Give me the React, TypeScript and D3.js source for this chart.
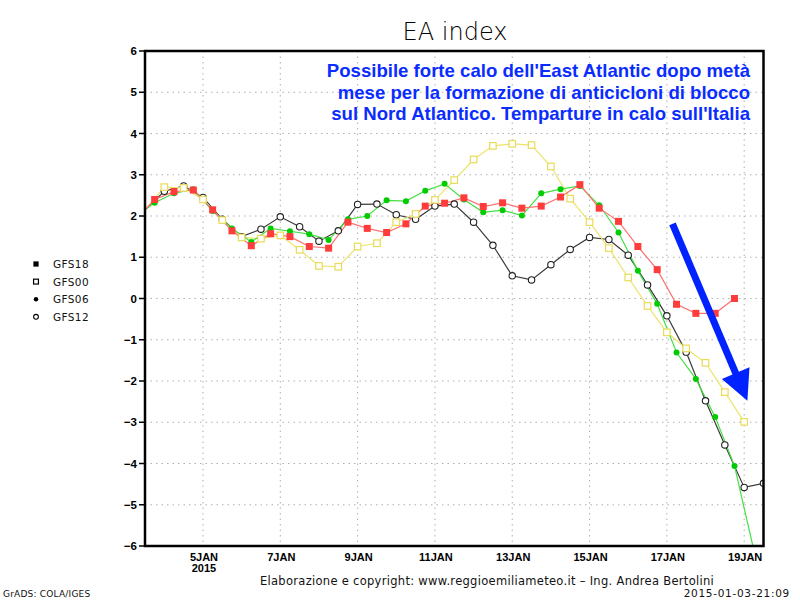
import React from 'react';
import * as d3 from 'd3';

const W = 800;
const H = 600;
const PLOT = { left: 145, right: 763.5, top: 51, bottom: 546 };

const xStart = new Date(Date.UTC(2015, 0, 3, 12));
const xEnd = new Date(Date.UTC(2015, 0, 19, 12));
const yTicks = [-6, -5, -4, -3, -2, -1, 0, 1, 2, 3, 4, 5, 6];
const xTickDays = [5, 7, 9, 11, 13, 15, 17, 19];
const xTickLabels = ['5JAN', '7JAN', '9JAN', '11JAN', '13JAN', '15JAN', '17JAN', '19JAN'];

const analysisValue = 2.15;
const STEP_H = 12;

const gfs18Values = [2.40, 2.59, 2.63, 2.15, 1.64, 1.28, 1.57, 1.50, 1.26, 1.22, 1.85, 1.70, 1.60, 1.81, 2.24, 2.31, 2.44, 2.23, 2.32, 2.19, 2.24, 2.46, 2.76, 2.19, 1.87, 1.26, 0.70, -0.14, -0.36, -0.36, 0.00];
const gfs00Values = [2.70, 2.68, 2.40, 1.90, 1.48, 1.45, 1.53, 1.18, 0.79, 0.77, 1.26, 1.34, 1.85, 2.05, 2.39, 2.87, 3.37, 3.70, 3.75, 3.72, 3.20, 2.42, 1.85, 1.22, 0.51, -0.18, -0.82, -1.21, -1.56, -2.27, -2.99];
const gfs06Values = [2.32, 2.55, 2.65, 2.12, 1.70, 1.37, 1.70, 1.63, 1.56, 1.42, 1.92, 2.00, 2.38, 2.36, 2.61, 2.78, 2.40, 2.09, 2.14, 2.01, 2.55, 2.65, 2.73, 2.26, 1.60, 0.67, -0.13, -1.31, -1.95, -2.87, -4.06, -6.10];
const gfs12Values = [2.60, 2.73, 2.45, 1.92, 1.50, 1.68, 1.98, 1.74, 1.39, 1.64, 2.28, 2.29, 2.03, 1.92, 2.24, 2.29, 1.85, 1.29, 0.55, 0.45, 0.82, 1.19, 1.48, 1.43, 1.05, 0.33, -0.42, -1.30, -2.48, -3.55, -4.58, -4.48];

const legendNames = ['GFS18', 'GFS00', 'GFS06', 'GFS12'];

const noteLines = [
  "Possibile forte calo dell'East Atlantic dopo metà",
  'mese per la formazione di anticicloni di blocco',
  "sul Nord Atlantico. Temparture in calo sull'Italia",
];

// arrow annotation in data space: [time, value]
const arrowFrom = { t: new Date(Date.UTC(2015, 0, 17, 3, 30)), v: 1.81 };
const arrowTo = { t: new Date(Date.UTC(2015, 0, 19, 2, 0)), v: -2.48 };

type Marker = 'fsquare' | 'osquare' | 'fcircle' | 'ocircle';
type Series = { name: string; start: Date; values: number[]; line: string; mark: string; marker: Marker };

const series: Series[] = [
  { name: 'GFS12', start: new Date(Date.UTC(2015, 0, 4, 0)), values: gfs12Values, line: '#3a3a3a', mark: '#222222', marker: 'ocircle' },
  { name: 'GFS00', start: new Date(Date.UTC(2015, 0, 4, 0)), values: gfs00Values, line: '#ece36a', mark: '#e8dc58', marker: 'osquare' },
  { name: 'GFS06', start: new Date(Date.UTC(2015, 0, 3, 18)), values: gfs06Values, line: '#44e044', mark: '#00cc00', marker: 'fcircle' },
  { name: 'GFS18', start: new Date(Date.UTC(2015, 0, 3, 18)), values: gfs18Values, line: '#ff7070', mark: '#ff3c3c', marker: 'fsquare' },
];

const x = d3.scaleUtc().domain([xStart, xEnd]).range([PLOT.left, PLOT.right]);
const y = d3.scaleLinear().domain([-6, 6]).range([PLOT.bottom, PLOT.top]);

function drawMarker(kind: Marker, cx: number, cy: number, color: string, key: string | number, scale = 1) {
  switch (kind) {
    case 'fsquare': {
      const s = 7 * scale;
      return <rect key={key} x={cx - s / 2} y={cy - s / 2} width={s} height={s} fill={color} />;
    }
    case 'osquare': {
      const s = 6.5 * scale;
      return <rect key={key} x={cx - s / 2} y={cy - s / 2} width={s} height={s} fill="#fff" stroke={color} strokeWidth={1.2} />;
    }
    case 'fcircle':
      return <circle key={key} cx={cx} cy={cy} r={3 * scale} fill={color} />;
    case 'ocircle':
      return <circle key={key} cx={cx} cy={cy} r={3.2 * scale} fill="#fff" stroke={color} strokeWidth={1.1} />;
  }
}

export default function App() {
  const lineGen = d3
    .line<{ t: Date; v: number }>()
    .x((d) => x(d.t))
    .y((d) => y(d.v));

  const seriesPts = series.map((s) => {
    const pts = s.values.map((v, i) => ({ t: new Date(s.start.getTime() + i * STEP_H * 3600e3), v }));
    return { s, pts, all: [{ t: xStart, v: analysisValue }, ...pts] };
  });

  // arrow geometry
  const ax0 = x(arrowFrom.t), ay0 = y(arrowFrom.v);
  const ax1 = x(arrowTo.t), ay1 = y(arrowTo.v);
  const ang = Math.atan2(ay1 - ay0, ax1 - ax0);
  const headLen = 30, headHalf = 15;
  const bx = ax1 - headLen * Math.cos(ang), by = ay1 - headLen * Math.sin(ang);
  const px = -Math.sin(ang), py = Math.cos(ang);

  const legendMarkers: Marker[] = ['fsquare', 'osquare', 'fcircle', 'ocircle'];

  return (
    <svg width={W} height={H} style={{ position: 'absolute', left: 0, top: 0, background: '#fff' }}>
      <defs>
        <clipPath id="plotClip">
          <rect x={PLOT.left} y={PLOT.top} width={PLOT.right - PLOT.left} height={PLOT.bottom - PLOT.top} />
        </clipPath>
      </defs>
      <rect x={0} y={0} width={W} height={H} fill="#fff" />

      {/* title */}
      <text x={455} y={40} textAnchor="middle" fontFamily="DejaVu Sans" fontWeight={200} fontSize={24} fill="#000">
        EA index
      </text>

      {/* grid */}
      {yTicks.slice(1, -1).map((t) => (
        <line key={'gy' + t} x1={PLOT.left} x2={PLOT.right} y1={y(t)} y2={y(t)} stroke="#b0b0b0" strokeWidth={1} strokeDasharray="1.5,4" />
      ))}
      {xTickDays.map((d) => (
        <line key={'gx' + d} x1={x(new Date(Date.UTC(2015, 0, d)))} x2={x(new Date(Date.UTC(2015, 0, d)))} y1={PLOT.top} y2={PLOT.bottom} stroke="#b0b0b0" strokeWidth={1} strokeDasharray="1.5,4" />
      ))}

      {/* note */}
      {noteLines.map((l, i) => (
        <text key={'n' + i} x={750} y={77 + i * 21.5} textAnchor="end" fontFamily="Liberation Sans, Arial, sans-serif" fontWeight="bold" fontSize={18.6} fill="#0a2cff">
          {l}
        </text>
      ))}

      {/* series */}
      <g clipPath="url(#plotClip)">
        {seriesPts.map(({ s, all }) => (
          <path key={'l' + s.name} d={lineGen(all) || ''} fill="none" stroke={s.line} strokeWidth={1.2} />
        ))}
        {seriesPts.map(({ s, pts }) => (
          <g key={'m' + s.name}>{pts.map((p, i) => drawMarker(s.marker, x(p.t), y(p.v), s.mark, i))}</g>
        ))}
      </g>

      {/* arrow */}
      <line x1={ax0} y1={ay0} x2={bx + 4 * Math.cos(ang)} y2={by + 4 * Math.sin(ang)} stroke="#0022ff" strokeWidth={7} />
      <polygon
        points={`${ax1},${ay1} ${bx + px * headHalf},${by + py * headHalf} ${bx - px * headHalf},${by - py * headHalf}`}
        fill="#0022ff"
      />

      {/* frame */}
      <rect x={PLOT.left} y={PLOT.top} width={PLOT.right - PLOT.left} height={PLOT.bottom - PLOT.top} fill="none" stroke="#000" strokeWidth={2.5} />

      {/* y axis ticks & labels */}
      {yTicks.map((t) => (
        <g key={'yt' + t}>
          <line x1={PLOT.left - 6} x2={PLOT.left} y1={y(t)} y2={y(t)} stroke="#000" strokeWidth={1.5} />
          <text x={137} y={y(t) + 4} textAnchor="end" fontFamily="Liberation Sans, Arial, sans-serif" fontWeight="bold" fontSize={11.5} fill="#000">
            {t < 0 ? '\u2212' + Math.abs(t) : String(t)}
          </text>
        </g>
      ))}

      {/* x labels */}
      {xTickDays.map((d, i) => {
        const xx = x(new Date(Date.UTC(2015, 0, d)));
        return (
          <g key={'xt' + d}>
            <text x={xx + 1} y={561} textAnchor="middle" fontFamily="Liberation Sans Narrow, Liberation Sans, Arial, sans-serif" fontWeight="bold" fontSize={11} fill="#000">
              {xTickLabels[i]}
            </text>
            {i === 0 && (
              <text x={xx + 1} y={572} textAnchor="middle" fontFamily="Liberation Sans Narrow, Liberation Sans, Arial, sans-serif" fontWeight="bold" fontSize={11} fill="#000">
                2015
              </text>
            )}
          </g>
        );
      })}

      {/* legend */}
      {legendNames.map((n, i) => (
        <g key={'lg' + n}>
          {drawMarker(legendMarkers[i], 36, 264 + i * 17.6, '#000', 'lm' + i, 0.75)}
          <text x={53} y={264 + i * 17.6 + 4} fontFamily="DejaVu Sans" fontSize={10.5} letterSpacing={0.4} fill="#111">
            {n}
          </text>
        </g>
      ))}

      {/* footer */}
      <text x={487} y={585} textAnchor="middle" fontFamily="DejaVu Sans" fontSize={11.5} letterSpacing={0.3} fill="#111">
        Elaborazione e copyright: www.reggioemiliameteo.it – Ing. Andrea Bertolini
      </text>
      <text x={790} y={597} textAnchor="end" fontFamily="DejaVu Sans" fontSize={10.5} letterSpacing={0.7} fill="#111">
        2015-01-03-21:09
      </text>
      <text x={3} y={597} fontFamily="DejaVu Sans" fontSize={9} letterSpacing={0.2} fill="#111">
        GrADS: COLA/IGES
      </text>
    </svg>
  );
}
